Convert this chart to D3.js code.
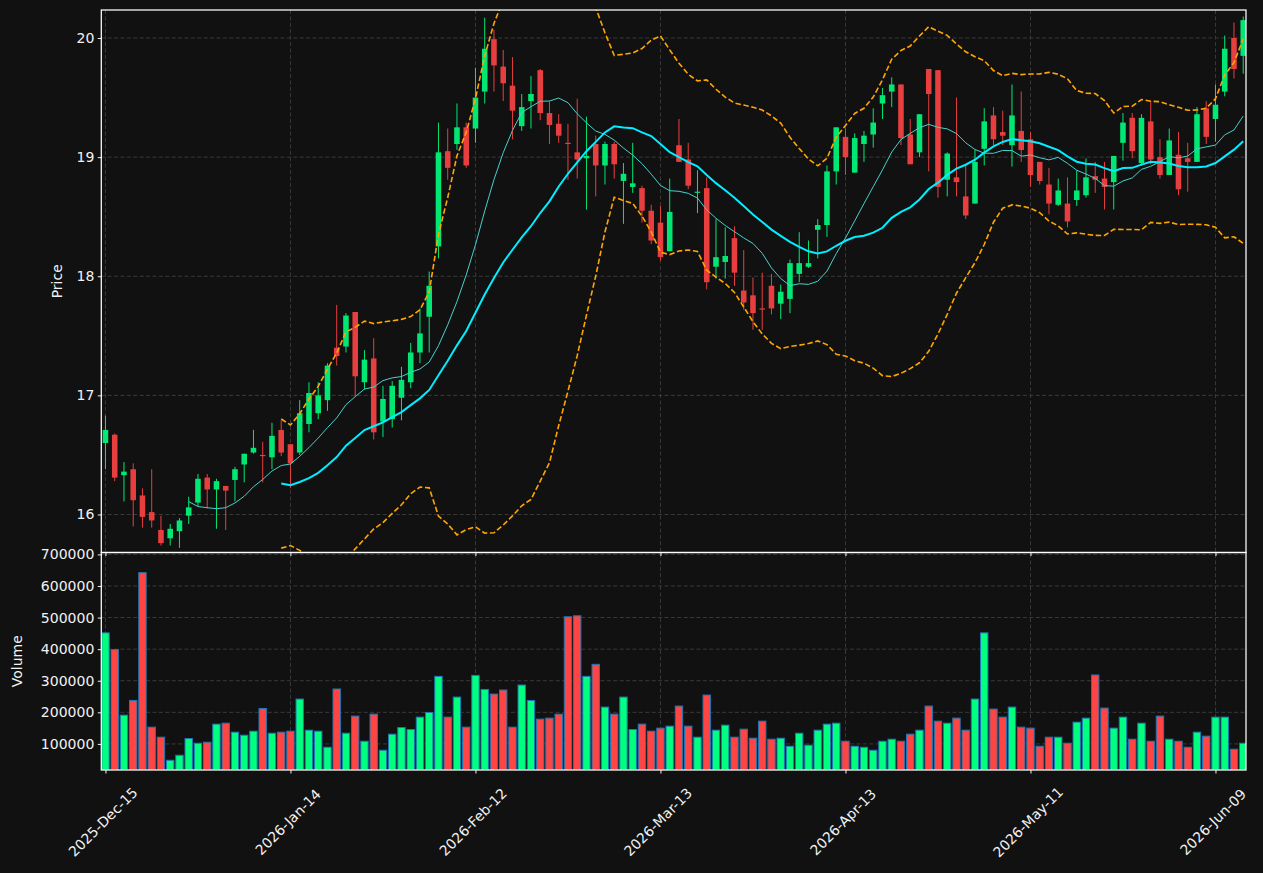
<!DOCTYPE html>
<html>
<head>
<meta charset="utf-8">
<script src="https://cdn.jsdelivr.net/npm/d3@7"></script>
<style>
    html, body { margin: 0; padding: 0; background: #111111; }
    svg { display: block; font-family: "DejaVu Sans", sans-serif; }
</style>
</head>
<body>
<div id="chart"></div>
<script>
// OHLC + volume, one entry per trading day (index based x axis)
const opens = [16.60,16.67,16.33,16.38,16.16,16.02,15.87,15.80,15.86,15.99,16.10,16.31,16.21,16.24,16.29,16.42,16.52,16.50,16.48,16.71,
    16.59,16.52,16.76,16.85,16.96,17.40,17.41,17.70,17.11,17.31,16.78,16.80,16.98,17.11,17.36,17.66,18.25,19.05,19.11,19.25,
    19.24,19.55,19.99,19.76,19.60,19.26,19.47,19.73,19.37,19.28,19.12,19.04,18.99,19.11,18.93,19.11,18.80,18.75,18.74,18.55,
    18.45,18.21,19.10,18.98,18.70,18.74,18.08,18.12,18.32,17.88,17.84,17.73,17.92,17.77,17.81,18.02,18.08,18.39,18.43,18.88,
    19.17,18.87,19.11,19.19,19.45,19.55,19.61,19.19,19.04,19.74,19.73,18.81,18.83,18.67,18.61,19.07,19.35,19.21,19.10,19.22,
    19.15,18.96,18.77,18.60,18.61,18.64,18.68,18.84,18.82,18.79,19.12,19.33,18.95,19.30,19.00,18.85,19.02,18.99,18.96,19.41,
    19.32,19.55,20.00,19.85];
const highs = [16.83,16.68,16.44,16.43,16.22,16.38,15.99,15.92,15.97,16.15,16.34,16.34,16.30,16.24,16.40,16.51,16.71,16.61,16.77,16.79,
    16.59,16.96,17.11,17.11,17.27,17.76,17.69,17.70,17.38,17.48,17.08,17.12,17.24,17.44,17.73,18.04,19.29,19.24,19.45,19.29,
    19.75,20.17,20.07,19.90,19.84,19.53,19.68,19.74,19.47,19.36,19.28,19.49,19.34,19.18,19.13,19.13,18.95,19.12,18.76,18.60,
    18.59,18.82,19.32,19.12,18.89,18.83,18.48,18.41,18.42,18.22,17.99,18.03,18.02,17.93,18.14,18.37,18.30,18.48,18.93,19.25,
    19.24,19.20,19.22,19.41,19.58,19.67,19.61,19.32,19.36,19.74,19.73,19.04,19.50,18.93,19.06,19.41,19.42,19.39,19.61,19.55,
    19.21,18.96,18.91,18.82,18.83,18.89,18.99,18.96,18.96,19.01,19.37,19.37,19.36,19.47,19.15,19.24,19.21,19.12,19.42,19.47,
    19.61,20.02,20.13,20.18];
const lows = [16.38,16.28,16.11,15.90,15.89,15.89,15.74,15.74,15.72,15.92,16.07,16.05,15.88,15.87,16.11,16.27,16.51,16.27,16.38,16.49,
    16.22,16.50,16.69,16.80,16.87,17.25,17.36,16.99,17.05,16.63,16.65,16.73,16.79,17.06,17.27,17.36,18.15,18.81,19.06,18.91,
    19.12,19.45,19.55,19.47,19.15,19.22,19.24,19.31,19.11,19.12,18.81,18.82,18.56,18.67,18.77,18.82,18.44,18.70,18.45,18.27,
    18.13,18.21,18.96,18.73,18.53,17.89,17.98,17.98,17.92,17.72,17.55,17.55,17.68,17.64,17.69,17.95,18.07,18.15,18.33,18.77,
    18.85,18.87,18.96,19.08,19.32,19.42,19.10,18.94,19.00,18.88,18.66,18.67,18.67,18.48,18.61,18.93,19.10,19.10,18.92,18.96,
    18.75,18.77,18.52,18.59,18.41,18.59,18.66,18.70,18.56,18.56,18.97,18.99,18.93,18.94,18.82,18.85,18.68,18.71,18.96,19.11,
    19.13,19.51,19.66,19.70];
const closes = [16.71,16.31,16.36,16.12,15.98,15.95,15.76,15.88,15.95,16.06,16.30,16.21,16.28,16.20,16.38,16.51,16.56,16.49,16.66,16.52,
    16.43,16.85,17.02,17.00,17.25,17.33,17.67,17.16,17.30,16.69,16.97,17.08,17.13,17.36,17.52,17.92,19.04,18.91,19.25,18.93,
    19.50,19.91,19.77,19.62,19.39,19.42,19.53,19.37,19.27,19.18,19.11,18.98,19.01,18.93,19.11,18.94,18.86,18.78,18.55,18.30,
    18.16,18.54,18.96,18.76,18.71,17.95,18.16,18.17,18.03,17.78,17.69,17.72,17.73,17.87,18.11,18.11,18.11,18.43,18.88,19.25,
    19.00,19.16,19.18,19.29,19.52,19.61,19.16,18.94,19.36,19.53,18.75,19.03,18.79,18.51,18.96,19.30,19.15,19.18,19.35,19.06,
    18.85,18.80,18.61,18.72,18.46,18.72,18.83,18.81,18.75,19.01,19.29,19.05,19.33,18.98,18.85,19.14,18.73,18.96,19.36,19.17,
    19.44,19.91,19.74,20.15];
const volumes = [451600,398600,191100,237600,642200,153000,121300,48200,64100,116900,102200,105400,162600,165700,137200,127600,140300,212200,133900,137200,
    140300,242000,143500,140300,89500,273800,133900,188000,108500,194300,80000,130800,151800,145500,184800,199500,313900,184800,248300,153000,
    317000,272500,257800,270600,153000,286400,237600,178500,181600,194300,502500,505600,313900,351900,216600,194300,248300,145500,162600,140300,
    149900,156200,219800,156200,121300,254700,143500,159400,121300,146700,118100,172100,114900,118100,92700,133900,95900,143500,162600,165700,
    108500,92700,89500,80000,108500,114900,108500,130800,143500,219800,172100,165700,181600,143500,242000,451600,210200,184800,216600,153000,
    149900,92700,121300,121300,102200,168900,181600,318200,213400,149900,184800,114900,165700,108500,188000,114900,108500,89500,137200,124500,
    184800,184800,83200,102200];

const tickIndex = [0, 20, 40, 60, 80, 100, 120];
const tickLabels = ["2025-Dec-15", "2026-Jan-14", "2026-Feb-12", "2026-Mar-13", "2026-Apr-13", "2026-May-11", "2026-Jun-09"];
const priceTicks = [16, 17, 18, 19, 20];
const volumeTicks = [100000, 200000, 300000, 400000, 500000, 600000, 700000];

const colors = {
    bg: "#111111", up: "#00ff7f", down: "#ff4444", edge: "#1f77b4",
    grid: "#3a3a3a", text: "#f2f2f2", mav10: "#48d1cc", mav20: "#00eeff", band: "#ffa500"
};

const W = 1263, H = 873;
const left = 101.3, right = 1246;
const pTop = 10, pBottom = 552.5, vTop = 552.5, vBottom = 770;

const data = closes.map((c, i) => ({
    i: i, open: opens[i], high: highs[i], low: lows[i], close: c, volume: volumes[i]
}));

// rolling helpers (moving averages + bollinger bands from the closes)
function rolling(arr, n, f) {
    return arr.map((d, i) => i < n - 1 ? null : f(arr.slice(i - n + 1, i + 1)));
}
const mav10 = rolling(closes, 10, d3.mean);
const mav20 = rolling(closes, 20, d3.mean);
const sd20 = rolling(closes, 20, d3.deviation);
const upper = mav20.map((m, i) => m == null ? null : m + 2 * sd20[i]);
const lower = mav20.map((m, i) => m == null ? null : m - 2 * sd20[i]);

const svg = d3.select("#chart").append("svg")
    .attr("width", W).attr("height", H);

svg.append("rect").attr("width", W).attr("height", H).attr("fill", colors.bg);

const x = d3.scaleLinear().domain([-0.45, 123.3]).range([left, right]);
const step = x(1) - x(0);
const yP = d3.scaleLinear().domain([15.681, 20.235]).range([pBottom, pTop]);
const yV = d3.scaleLinear().domain([17400, 706000]).range([vBottom, vTop]);

const defs = svg.append("defs");
defs.append("clipPath").attr("id", "clipP").append("rect")
    .attr("x", left).attr("y", pTop).attr("width", right - left).attr("height", pBottom - pTop);
defs.append("clipPath").attr("id", "clipV").append("rect")
    .attr("x", left).attr("y", vTop).attr("width", right - left).attr("height", vBottom - vTop);

// grid
const grid = svg.append("g")
    .attr("stroke", colors.grid).attr("stroke-width", 1).attr("stroke-dasharray", "4,2.4");
grid.selectAll(".gp").data(priceTicks).enter().append("line")
    .attr("x1", left).attr("x2", right)
    .attr("y1", d => yP(d)).attr("y2", d => yP(d));
grid.selectAll(".gv").data(volumeTicks).enter().append("line")
    .attr("x1", left).attr("x2", right)
    .attr("y1", d => yV(d)).attr("y2", d => yV(d));
grid.selectAll(".gx").data(tickIndex).enter().append("line")
    .attr("x1", d => x(d)).attr("x2", d => x(d))
    .attr("y1", pTop).attr("y2", vBottom);

// price panel
const gP = svg.append("g").attr("clip-path", "url(#clipP)");

const candles = gP.selectAll(".candle").data(data).enter().append("g")
    .attr("class", "candle")
    .attr("opacity", 0.9)
    .attr("fill", d => d.close >= d.open ? colors.up : colors.down)
    .attr("stroke", d => d.close >= d.open ? colors.up : colors.down);

candles.append("line")
    .attr("x1", d => x(d.i)).attr("x2", d => x(d.i))
    .attr("y1", d => yP(d.high)).attr("y2", d => yP(d.low))
    .attr("stroke-width", 1);

candles.append("rect")
    .attr("x", d => x(d.i) - step * 0.3)
    .attr("width", step * 0.6)
    .attr("y", d => yP(Math.max(d.open, d.close)))
    .attr("height", d => Math.max(1, Math.abs(yP(d.open) - yP(d.close))))
    .attr("stroke", "none");

const line = d3.line()
    .defined(d => d != null)
    .x((d, i) => x(i))
    .y(d => yP(d));

gP.append("path").datum(upper)
    .attr("d", line).attr("fill", "none")
    .attr("stroke", colors.band).attr("stroke-width", 1.6).attr("stroke-dasharray", "5.5,2.6");
gP.append("path").datum(lower)
    .attr("d", line).attr("fill", "none")
    .attr("stroke", colors.band).attr("stroke-width", 1.6).attr("stroke-dasharray", "5.5,2.6");
gP.append("path").datum(mav10)
    .attr("d", line).attr("fill", "none")
    .attr("stroke", colors.mav10).attr("stroke-width", 1);
gP.append("path").datum(mav20)
    .attr("d", line).attr("fill", "none")
    .attr("stroke", colors.mav20).attr("stroke-width", 2);

// volume panel
const gV = svg.append("g").attr("clip-path", "url(#clipV)");
gV.selectAll(".vol").data(data).enter().append("rect")
    .attr("class", "vol")
    .attr("x", d => x(d.i) - step * 0.4)
    .attr("width", step * 0.8)
    .attr("y", d => yV(d.volume))
    .attr("height", d => vBottom - yV(d.volume))
    .attr("fill", d => d.close >= d.open ? colors.up : colors.down)
    .attr("stroke", colors.edge)
    .attr("stroke-width", 1);

// axes
function styleAxis(g) {
    g.select(".domain").remove();
    g.selectAll(".tick line").attr("stroke", colors.text);
    g.selectAll(".tick text").attr("fill", colors.text).attr("font-size", 14)
        .attr("font-family", "DejaVu Sans, sans-serif");
}

svg.append("g")
    .attr("transform", `translate(${left},0)`)
    .call(d3.axisLeft(yP).tickValues(priceTicks).tickFormat(d3.format("d")).tickSize(3.5).tickPadding(3.5))
    .call(styleAxis);

svg.append("g")
    .attr("transform", `translate(${left},0)`)
    .call(d3.axisLeft(yV).tickValues(volumeTicks).tickFormat(d3.format("d")).tickSize(3.5).tickPadding(3.5))
    .call(styleAxis);

// small ticks under the price panel (labels hidden)
svg.append("g")
    .attr("transform", `translate(0,${pBottom})`)
    .call(d3.axisBottom(x).tickValues(tickIndex).tickFormat("").tickSize(3.5))
    .call(styleAxis);

const xAxis = svg.append("g")
    .attr("transform", `translate(0,${vBottom})`)
    .call(d3.axisBottom(x).tickValues(tickIndex).tickFormat((d, i) => tickLabels[i]).tickSize(3.5))
    .call(styleAxis);

xAxis.selectAll(".tick text")
    .attr("text-anchor", "middle")
    .attr("dominant-baseline", "central")
    .attr("dy", null)
    .attr("y", 0)
    .attr("transform", "translate(-3,52) rotate(-45)");

// frames
const frame = svg.append("g").attr("fill", "none").attr("stroke", "#ffffff").attr("stroke-width", 1.25);
frame.append("rect").attr("x", left).attr("y", pTop).attr("width", right - left).attr("height", pBottom - pTop);
frame.append("rect").attr("x", left).attr("y", vTop).attr("width", right - left).attr("height", vBottom - vTop);

// axis titles
svg.append("text")
    .attr("transform", `translate(57,${(pTop + pBottom) / 2}) rotate(-90)`)
    .attr("text-anchor", "middle").attr("dominant-baseline", "central")
    .attr("fill", colors.text).attr("font-size", 14)
    .text("Price");

svg.append("text")
    .attr("transform", `translate(17,${(vTop + vBottom) / 2}) rotate(-90)`)
    .attr("text-anchor", "middle").attr("dominant-baseline", "central")
    .attr("fill", colors.text).attr("font-size", 14)
    .text("Volume");
</script>
</body>
</html>
